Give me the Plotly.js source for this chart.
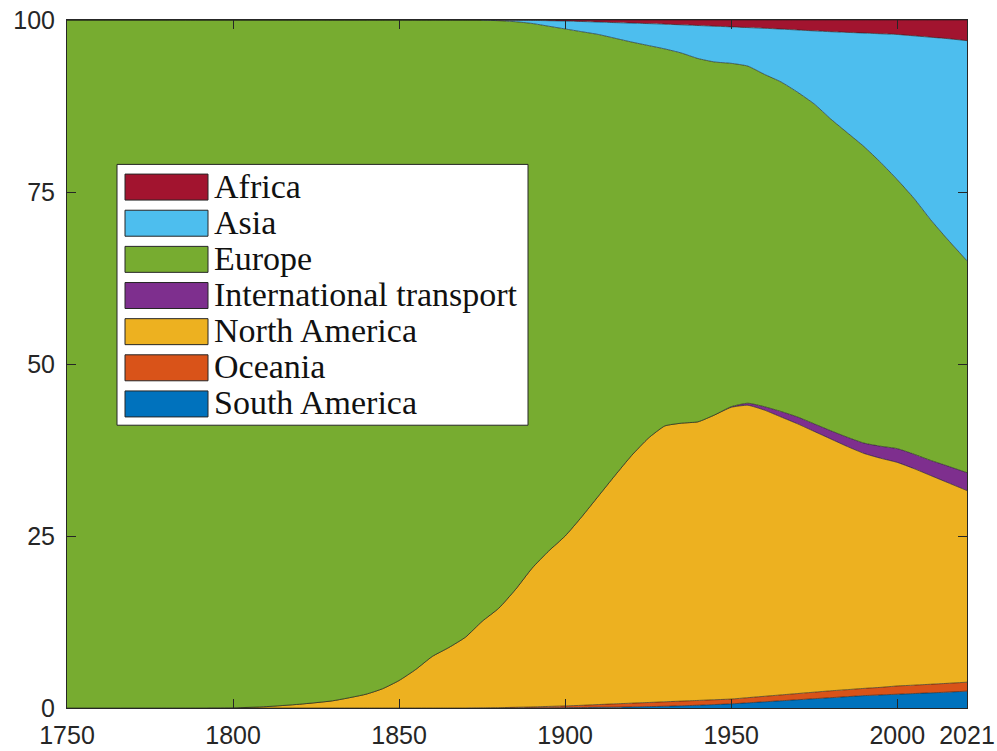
<!DOCTYPE html>
<html>
<head>
<meta charset="utf-8">
<script src="https://cdn.plot.ly/plotly-3.0.1.min.js"></script>
<style>html,body{margin:0;padding:0;background:#fff;}</style>
</head>
<body>
<div id="chart" style="width:997px;height:751px;"></div>
<script>
// ---- data (share of cumulative CO2, %) ----
const years = [1750,1780,1800,1810,1820,1830,1840,1845,1850,1855,1860,1865,1870,1875,1880,1885,1890,1895,1900,1905,1910,1915,1920,1925,1930,1935,1940,1945,1950,1955,1960,1965,1970,1975,1980,1985,1990,1995,2000,2005,2010,2015,2021];

const southAmerica = [0,0,0,0,0,0,0,0,0,0,0,0,0,0,0,0,0.02,0.03,0.05,0.07,0.1,0.12,0.15,0.2,0.25,0.32,0.4,0.5,0.6,0.75,0.9,1.05,1.2,1.35,1.5,1.65,1.8,1.9,2.0,2.1,2.2,2.3,2.45];
const oceania = [0,0,0,0,0,0,0,0,0,0,0,0,0,0.02,0.05,0.1,0.13,0.2,0.25,0.32,0.4,0.48,0.55,0.6,0.65,0.68,0.7,0.7,0.7,0.75,0.8,0.85,0.9,0.95,1.0,1.02,1.05,1.1,1.2,1.22,1.25,1.28,1.3];
const northAmerica = [0,0,0.02,0.2,0.55,1.05,2.0,2.8,4.0,5.6,7.5,8.8,10.3,12.58,14.45,17.1,20.15,22.57,24.7,27.41,30.3,33.2,36.0,38.4,40.1,40.4,40.5,41.4,42.4,42.5,41.6,40.4,39.2,37.9,36.6,35.33,34.15,33.3,32.5,31.48,30.35,29.22,27.85];
const intlTransport = [0,0,0,0,0,0,0,0,0,0,0,0,0,0,0,0,0,0,0,0,0,0,0,0,0,0,0,0,0.1,0.3,0.5,0.8,1.0,1.1,1.2,1.35,1.5,1.75,2.0,2.1,2.2,2.4,2.6];
const europe = [100,100,99.98,99.8,99.45,98.95,98.0,97.2,96.0,94.4,92.5,91.2,89.7,87.38,85.4,82.55,79.2,76.3,73.7,70.5,67.1,63.55,60.1,57.1,54.8,53.8,52.8,51.3,49.9,49.0,48.3,47.9,47.2,46.5,45.3,44.25,43.1,41.25,39.1,37.2,35.0,33.0,30.8];
const asia = [0,0,0,0,0,0,0,0,0,0,0,0,0,0.02,0.08,0.22,0.45,0.8,1.15,1.48,1.8,2.27,2.75,3.18,3.6,4.1,4.8,5.2,5.3,5.6,6.7,7.68,9.05,10.62,12.7,14.6,16.5,18.7,21.1,23.6,26.5,29.1,32.0];
const africa = [0,0,0,0,0,0,0,0,0,0,0,0,0,0,0.02,0.03,0.05,0.1,0.15,0.22,0.3,0.38,0.45,0.52,0.6,0.7,0.8,0.9,1.0,1.1,1.2,1.32,1.45,1.58,1.7,1.8,1.9,2.0,2.1,2.3,2.5,2.7,3.0];

const seriesNames = ["South America","Oceania","North America","International transport","Europe","Asia","Africa"];
const seriesValues = [southAmerica, oceania, northAmerica, intlTransport, europe, asia, africa];
const seriesColors = ["#0072BD","#D95319","#EDB120","#7E2F8E","#77AC30","#4DBEEE","#A2142F"];

const xTicks = [1750,1800,1850,1900,1950,2000,2021];
const yTicks = [0,25,50,75,100];

// ---- traces ----
const traces = seriesNames.map((n, i) => ({
  x: years, y: seriesValues[i], name: n, type: 'scatter', mode: 'lines',
  stackgroup: 'one', fillcolor: seriesColors[i],
  line: {color: '#1a1a1a', width: 0.6, shape: 'spline', smoothing: 0.5}, showlegend: false, hoverinfo: 'x+y+name'
}));

// ---- manual legend (pixel layout -> paper coords) ----
const PL = 67, PR = 967, PT = 19.5, PB = 708;
const px = v => (v - PL) / (PR - PL);
const py = v => (PB - v) / (PB - PT);
const shapes = [{type:'rect', xref:'paper', yref:'paper', x0:px(117), x1:px(528), y0:py(425), y1:py(164),
  fillcolor:'#ffffff', line:{color:'#262626', width:1}, layer:'above'}];
const annotations = [];
const legendOrder = [6,5,4,3,2,1,0];
legendOrder.forEach((si, k) => {
  const cy = 186.7 + 36.17 * k;
  shapes.push({type:'rect', xref:'paper', yref:'paper', x0:px(125), x1:px(208), y0:py(cy + 13), y1:py(cy - 13),
    fillcolor: seriesColors[si], line:{color:'#262626', width:1}, layer:'above'});
  annotations.push({xref:'paper', yref:'paper', x:px(212), y:py(cy - 1), xanchor:'left', yanchor:'middle',
    text: seriesNames[si], showarrow:false, font:{family:'Liberation Serif, serif', size:34, color:'#111'}});
});

const axisCommon = {
  ticks:'inside', ticklen:9, tickwidth:1, tickcolor:'#262626',
  showline:true, linecolor:'#262626', linewidth:1, mirror:'ticks',
  showgrid:false, zeroline:false,
  tickfont:{family:'Liberation Sans, Arial, sans-serif', size:25, color:'#262626'}
};

const layout = {
  width:997, height:751,
  margin:{l:PL, r:997-PR, t:PT, b:751-PB},
  paper_bgcolor:'#ffffff', plot_bgcolor:'#ffffff',
  showlegend:false,
  xaxis: Object.assign({}, axisCommon, {range:[1750,2021], tickvals:xTicks, ticktext:xTicks.map(String), ticklabelstandoff:5}),
  yaxis: Object.assign({}, axisCommon, {range:[0,100], tickvals:yTicks, ticktext:yTicks.map(String), ticklabelstandoff:6}),
  shapes: shapes, annotations: annotations
};

Plotly.newPlot('chart', traces, layout, {displayModeBar:false, staticPlot:true});
</script>
</body>
</html>
